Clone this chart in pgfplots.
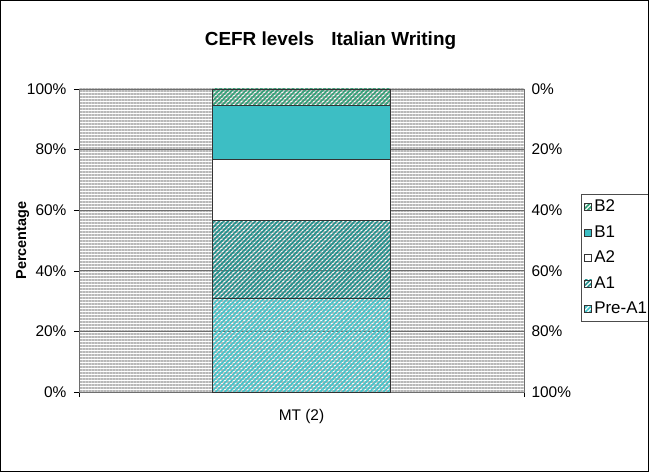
\documentclass[border=0pt]{standalone}
\usepackage{fontspec}
\setmainfont{Liberation Sans}
\usepackage{pgfplots}
\pgfplotsset{compat=1.18}
\usetikzlibrary{patterns.meta}
\definecolor{preaone}{HTML}{45C4CA}
\definecolor{aone}{HTML}{22908C}
\definecolor{bone}{HTML}{3DBEC4}
\definecolor{btwo}{HTML}{33A078}
\definecolor{gridc}{HTML}{6E6E6E}
\definecolor{bgstripe}{HTML}{B8B8B8}
\begin{document}
\begin{tikzpicture}
\useasboundingbox (0bp,0bp) rectangle (649bp,472bp);
\begin{axis}[
  at={(79bp,80bp)}, anchor=south west,
  width=445bp, height=303bp, scale only axis,
  ybar stacked, bar width=1,
  xmin=-1.25, xmax=1.25, ymin=0, ymax=100,
  xtick={-1.25,1.25}, xticklabels={,},
  extra x ticks={0}, extra x tick labels={MT (2)},
  extra x tick style={major tick length=0pt, grid=none},
  ytick={0,20,40,60,80,100},
  yticklabels={0\%,20\%,40\%,60\%,80\%,100\%},
  tick align=outside, major tick length=5bp,
  ytick pos=left, xtick pos=bottom,
  tick style={black},
  ymajorgrids, grid style={gridc, line width=0.8bp},
  axis line style={gridc, line width=0.8bp},
  tick label style={font=\fontsize{15.5}{17}\selectfont},
  yticklabel style={xshift=-4bp},
  xticklabel style={anchor=base, yshift=-29bp},
  ylabel={\textbf{Percentage}},
  ylabel style={font=\fontsize{14.5}{16}\selectfont, at={(axis description cs:-0.119,0.5)}, anchor=base},
  title={\textbf{CEFR levels\hspace{0.9em}Italian Writing}},
  title style={font=\fontsize{19}{21}\selectfont, at={(axis description cs:0.5,1)}, anchor=base, yshift=38bp, xshift=29bp},
  axis background/.style={preaction={fill=white}, pattern={Lines[angle=0, distance=3bp, line width=1.4bp]}, pattern color=bgstripe},
  legend style={at={(1.1281,0.6535)}, anchor=north west, draw=black!70, line width=0.6bp,
    font=\fontsize{17}{19}\selectfont, row sep=10.5bp, inner xsep=3bp, inner ysep=5bp,
    nodes={inner xsep=2.5bp, inner ysep=0bp, text height=12.5bp, text depth=2.5bp}},
  legend cell align=left,
  legend image code/.code={\draw[#1, line width=0.5bp] (0.5bp,-3.5bp) rectangle (7.5bp,3.5bp);},
  reverse legend,
  clip=false,
]
\addplot[draw=black!80, line width=0.8bp, pattern={Lines[angle=45, distance=3.2bp, line width=1.7bp]}, pattern color=preaone] coordinates {(0,30.8)};
\addlegendentry{Pre-A1\hspace{30bp}}
\addplot[draw=black!80, line width=0.8bp, pattern={Lines[angle=45, distance=3.2bp, line width=1.7bp]}, pattern color=aone] coordinates {(0,25.8)};
\addlegendentry{A1}
\addplot[draw=black!80, line width=0.8bp, fill=white] coordinates {(0,20.1)};
\addlegendentry{A2}
\addplot[draw=black!80, line width=0.8bp, fill=bone] coordinates {(0,17.9)};
\addlegendentry{B1}
\addplot[draw=black!80, line width=0.8bp, pattern={Lines[angle=45, distance=3.2bp, line width=1.7bp]}, pattern color=btwo] coordinates {(0,5.4)};
\addlegendentry{B2}
\end{axis}
\begin{axis}[
  at={(79bp,80bp)}, anchor=south west,
  width=445bp, height=303bp, scale only axis,
  xmin=-1.25, xmax=1.25, ymin=0, ymax=100,
  y dir=reverse,
  axis x line=none, axis y line*=right,
  axis line style={draw=none},
  ytick={0,20,40,60,80,100},
  yticklabels={0\%,20\%,40\%,60\%,80\%,100\%},
  major tick length=0pt,
  tick label style={font=\fontsize{15.5}{17}\selectfont},
  yticklabel style={xshift=4bp},
]
\end{axis}
\fill[white] (649bp,0bp) rectangle (700bp,472bp);
\draw[black, line width=0.8bp] (0.4bp,0.4bp) rectangle (648.6bp,471.6bp);
\end{tikzpicture}
\end{document}
